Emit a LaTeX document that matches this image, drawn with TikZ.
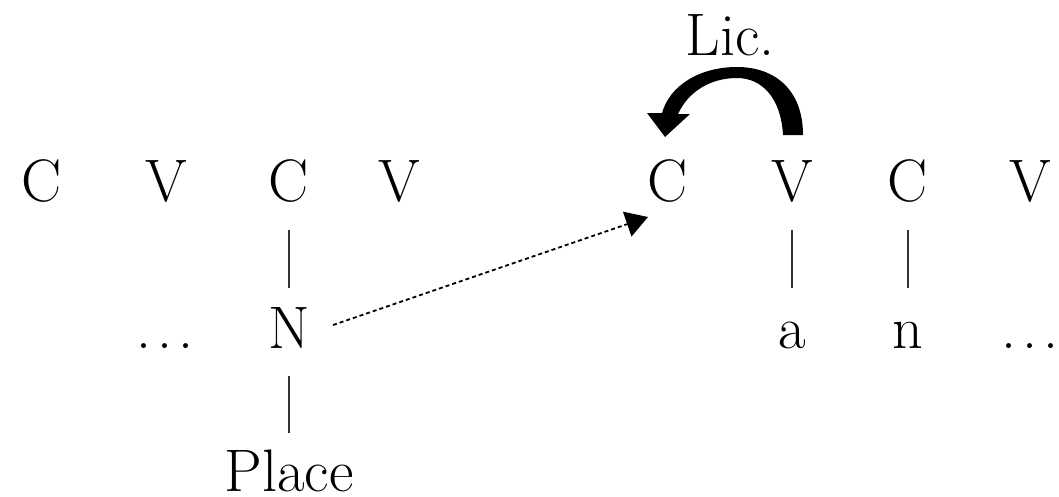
\documentclass[tikz,border=0pt]{standalone}
\usetikzlibrary{calc,arrows.meta}
\newcommand{\mydots}{.\kern6pt.\kern6pt.}
\begin{document}
\begin{tikzpicture}[x=1pt,y=-1pt,
  lab/.style={inner sep=0pt,anchor=base,font=\fontsize{60}{60}\selectfont},
  assoc/.style={line width=1.6pt,draw=black!80},
  dashline/.style={line width=1.8pt,dash pattern=on 4pt off 3pt,-{Triangle[length=22pt,width=26pt]}}]
\useasboundingbox (0,0) rectangle (1059,496);
\node[lab] (C1) at (42,201) {C};
\node[lab] (V1) at (166,201) {V};
\node[lab] (C2) at (289,201) {C};
\node[lab] (V2) at (399,201) {V};
\node[lab] (C3) at (668,201) {C};
\node[lab] (V3) at (792,201) {V};
\node[lab] (C4) at (908,201) {C};
\node[lab] (V4) at (1030,201) {V};
\node[lab] (Lic) at (730,55) {Lic.};
\node[lab] (d1) at (165,348) {\mydots};
\node[lab] (N) at (289,348) {N};
\node[lab] (a) at (792,348) {a};
\node[lab] (n) at (908,348) {n};
\node[lab] (d2) at (1030,348) {\mydots};
\node[lab] (Place) at (289,491) {Place};
\draw[assoc] ($(C2.base)+(0,29)$) -- ($(N.base)+(0,-60)$);
\draw[assoc] ($(N.base)+(0,28)$) -- ($(N.base)+(0,85)$);
\draw[assoc] ($(V3.base)+(0,29)$) -- ($(a.base)+(0,-60)$);
\draw[assoc] ($(C4.base)+(0,29)$) -- ($(n.base)+(0,-60)$);
\draw[dashline] ($(N.base)+(44,-23)$) -- ($(C3.base)+(-20,16)$);
\fill (783,135) -- (803,135) .. controls (803,90) and (775,67) .. (737,67)
  .. controls (700,67) and (670,85) .. (662,113) -- (647,113) -- (665,137)
  -- (690,114) -- (678,114) .. controls (688,92) and (710,78) .. (737,78)
  .. controls (762,78) and (781,98) .. (783,135) -- cycle;
\end{tikzpicture}
\end{document}
